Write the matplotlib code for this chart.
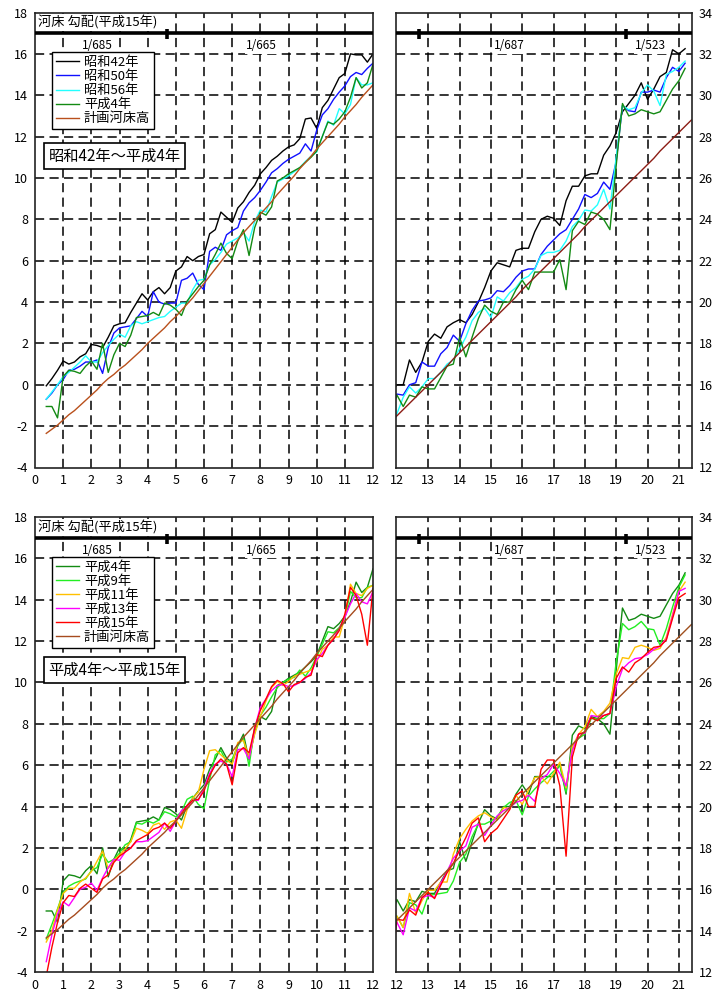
import matplotlib
matplotlib.use('Agg')
import matplotlib.pyplot as plt

plt.rcParams['font.family'] = ['Noto Sans CJK JP', 'DejaVu Sans']
plt.rcParams['axes.unicode_minus'] = False

# survey sections (km), 200 m pitch
KM_L = [0.4, 0.6, 0.8, 1.0, 1.2, 1.4, 1.6, 1.8, 2.0, 2.2, 2.4, 2.6, 2.8, 3.0, 3.2,
        3.4, 3.6, 3.8, 4.0, 4.2, 4.4, 4.6, 4.8, 5.0, 5.2, 5.4, 5.6, 5.8, 6.0, 6.2,
        6.4, 6.6, 6.8, 7.0, 7.2, 7.4, 7.6, 7.8, 8.0, 8.2, 8.4, 8.6, 8.8, 9.0, 9.2,
        9.4, 9.6, 9.8, 10.0, 10.2, 10.4, 10.6, 10.8, 11.0, 11.2, 11.4, 11.6, 11.8, 12.0]
KM_R = [12.2, 12.4, 12.6, 12.8, 13.0, 13.2, 13.4, 13.6, 13.8, 14.0, 14.2, 14.4, 14.6,
        14.8, 15.0, 15.2, 15.4, 15.6, 15.8, 16.0, 16.2, 16.4, 16.6, 16.8, 17.0, 17.2,
        17.4, 17.6, 17.8, 18.0, 18.2, 18.4, 18.6, 18.8, 19.0, 19.2, 19.4, 19.6, 19.8,
        20.0, 20.2, 20.4, 20.6, 20.8, 21.0, 21.2]
KM = KM_L + KM_R
KM_PLAN = KM + [21.4]

# bed elevation by survey year
S42 = [-0.05, 0.3, 0.7, 1.15, 1.0, 1.1, 1.35, 1.5, 1.95, 1.9, 1.8, 2.3, 2.85, 2.95, 3.0,
       3.5, 3.95, 4.4, 4.1, 4.5, 4.7, 4.4, 4.7, 5.5, 5.7, 6.2, 6.0, 6.2, 6.3, 7.3,
       7.5, 8.35, 8.1, 7.85, 8.55, 8.85, 9.3, 9.65, 10.2, 10.5, 10.85, 11.05, 11.3, 11.5, 11.6,
       11.9, 12.85, 12.9, 12.4, 13.4, 13.75, 14.3, 14.85, 15.05, 16.0, 15.95, 15.95, 15.6, 16.0,
       16.0, 17.2, 16.6, 17.1, 18.1, 18.45, 18.25, 18.8, 19.0, 19.15, 19.0, 19.4, 20.0,
       20.7, 21.5, 21.9, 21.8, 21.7, 22.5, 22.6, 22.6, 23.4, 24.0, 24.15, 24.05, 23.7,
       24.9, 25.6, 25.6, 26.1, 26.2, 26.2, 27.1, 27.55, 28.2, 29.2, 29.6, 30.0, 30.6,
       29.8, 30.3, 30.9, 31.1, 32.2, 32.0, 32.25]
S50 = [-0.7, -0.4, 0.0, 0.25, 0.7, 0.75, 0.9, 1.1, 1.1, 1.2, 0.55, 1.8, 2.5, 2.75, 2.8,
       2.85, 3.2, 3.55, 3.3, 4.5, 4.0, 3.9, 3.95, 3.95, 5.05, 5.15, 5.4, 4.85, 4.6, 6.45,
       6.65, 6.5, 7.25, 7.45, 7.6, 8.4, 8.8, 9.05, 9.4, 9.8, 10.25, 10.45, 10.7, 10.9, 11.05,
       11.2, 11.65, 11.3, 12.3, 13.05, 13.35, 13.8, 14.15, 14.45, 14.9, 15.1, 15.0, 15.3, 15.55,
       15.5, 16.0, 16.1, 17.1, 16.9, 16.9, 17.5, 17.8, 18.4, 18.1, 18.95, 19.6, 20.05,
       20.1, 20.2, 20.55, 20.5, 20.8, 21.2, 21.5, 21.6, 21.6, 22.3, 22.7, 23.0, 23.3,
       23.5, 24.0, 24.5, 25.2, 25.05, 25.25, 25.8, 25.45, 26.8, 29.5, 29.25, 29.2, 30.15,
       30.15, 30.25, 30.15, 30.85, 31.35, 31.15, 31.55]
S56 = [-0.7, -0.35, 0.0, 0.4, 0.6, 0.85, 1.1, 1.4, 1.1, 1.1, 1.55, 1.9, 2.2, 2.45, 2.3,
       2.85, 3.05, 2.95, 3.05, 3.15, 3.25, 3.3, 3.55, 3.75, 3.95, 3.95, 4.6, 5.05, 5.1, 5.8,
       6.05, 6.4, 6.8, 6.95, 7.1, 7.35, 6.95, 7.9, 8.45, 8.35, 9.1, 9.8, 9.95, 10.1, 10.3,
       10.5, 10.8, 11.05, 11.25, 12.0, 12.75, 12.55, 13.35, 13.1, 13.55, 14.85, 14.5, 14.5, 14.6,
       15.4, 15.9, 15.6, 15.9, 16.3, 16.3, 16.6, 17.0, 17.2, 17.75, 18.3, 19.1, 19.5,
       19.7, 19.25, 20.25, 20.05, 20.45, 20.7, 21.1, 21.25, 21.6, 22.25, 22.4, 22.4, 22.5,
       22.95, 23.65, 23.95, 24.45, 24.4, 24.7, 25.45, 24.5, 27.0, 29.5, 29.3, 29.4, 30.1,
       30.5, 30.2, 29.5, 31.0, 31.15, 31.35, 31.65]
H04 = [-1.05, -1.05, -1.6, 0.4, 0.7, 0.65, 0.55, 0.9, 1.15, 0.75, 2.0, 0.6, 1.45, 2.0, 1.85,
       2.4, 3.25, 3.3, 3.35, 3.5, 3.35, 3.95, 3.85, 3.65, 3.35, 4.05, 4.4, 4.75, 5.05, 5.8,
       6.3, 6.85, 6.35, 6.1, 6.95, 7.5, 6.25, 7.6, 8.35, 8.2, 8.6, 9.85, 10.0, 10.2, 10.35,
       10.5, 10.75, 11.0, 11.3, 12.0, 12.7, 12.6, 12.85, 13.2, 13.9, 14.85, 14.35, 14.6, 15.5,
       14.95, 15.5, 15.4, 15.9, 15.8, 15.8, 16.35, 16.9, 17.0, 18.3, 17.35, 18.3, 19.2,
       19.85, 19.55, 19.4, 20.0, 20.0, 20.6, 21.05, 20.6, 21.45, 21.45, 21.45, 21.45, 22.05,
       20.6, 23.45, 23.9, 23.75, 24.35, 24.25, 24.0, 23.5, 26.6, 29.6, 29.0, 29.1, 29.3,
       29.2, 29.1, 29.2, 29.75, 30.3, 30.7, 31.3]
H09 = [-2.4, -1.7, -0.95, -0.15, 0.15, 0.3, 0.4, 0.5, 0.9, 1.05, 1.7, 1.3, 1.45, 1.75, 2.15,
       2.3, 3.2, 3.15, 3.3, 3.2, 3.35, 3.75, 3.65, 3.5, 3.75, 4.35, 4.5, 4.1, 3.9, 5.3,
       6.5, 6.7, 6.15, 6.3, 6.95, 7.3, 5.95, 7.85, 8.4, 8.8, 9.3, 9.75, 10.0, 10.15, 10.25,
       10.6, 10.3, 10.7, 11.25, 11.85, 12.45, 12.4, 12.65, 13.1, 14.4, 14.1, 14.1, 14.6, 14.7,
       14.15, 15.35, 15.25, 14.8, 15.7, 15.75, 15.8, 15.85, 16.4, 17.3, 17.7, 18.55, 19.15,
       19.15, 19.3, 19.5, 19.95, 20.2, 20.3, 19.6, 20.5, 20.85, 21.15, 21.4, 21.7, 22.0,
       20.7, 22.95, 23.3, 23.5, 24.25, 24.25, 24.25, 24.5, 27.0, 28.85, 28.55, 28.7, 28.95,
       28.6, 28.55, 27.8, 28.6, 29.65, 30.6, 31.2]
H11 = [-2.55, -2.0, -1.0, -0.2, 0.05, 0.05, 0.35, 0.55, 0.85, 1.35, 1.85, 1.0, 1.4, 1.65, 1.95,
       2.3, 2.95, 2.85, 2.7, 3.1, 3.2, 2.9, 3.25, 3.35, 2.95, 3.85, 4.4, 4.7, 5.8, 6.7,
       6.75, 6.5, 6.25, 6.05, 7.1, 7.2, 6.4, 7.5, 8.35, 9.1, 9.75, 10.05, 9.85, 10.05, 10.3,
       10.4, 10.5, 10.6, 11.0, 11.6, 11.8, 12.2, 12.2, 13.15, 14.75, 14.3, 14.2, 14.55, 14.7,
       14.15, 15.8, 14.85, 15.45, 15.95, 15.95, 16.35, 16.35, 17.7, 18.45, 18.9, 19.3, 19.55,
       19.7, 19.5, 19.35, 19.95, 19.9, 20.55, 20.1, 20.8, 21.4, 21.45, 21.1, 21.6, 22.15,
       20.9, 22.9, 23.5, 23.85, 24.7, 24.35, 24.6, 25.0, 26.4, 27.2, 27.15, 27.7, 27.8,
       27.7, 27.55, 27.65, 28.2, 29.3, 30.4, 30.85]
H13 = [-3.5, -2.2, -1.2, -0.6, -0.8, -0.4, 0.0, 0.1, 0.3, -0.05, 0.55, 1.05, 1.45, 1.4, 1.8,
       2.0, 2.3, 2.3, 2.35, 2.55, 2.75, 3.2, 2.8, 3.3, 3.8, 4.0, 4.3, 4.3, 4.9, 5.6,
       6.05, 6.2, 6.05, 5.45, 6.75, 6.8, 6.3, 7.8, 8.8, 9.2, 9.6, 9.85, 9.9, 9.8, 9.85,
       10.0, 10.2, 10.45, 11.1, 11.4, 11.8, 12.1, 12.6, 13.15, 13.8, 14.3, 13.9, 13.8, 14.4,
       13.8, 15.1, 14.95, 15.6, 15.7, 15.6, 16.3, 16.85, 17.5, 17.85, 18.1, 19.0, 19.15,
       18.6, 19.1, 19.55, 19.8, 19.95, 20.2, 20.3, 20.55, 20.25, 21.35, 21.55, 22.05, 21.6,
       21.0, 22.7, 23.5, 23.55, 24.4, 24.35, 24.4, 24.5, 25.8, 26.65, 26.95, 27.15, 27.2,
       27.35, 27.6, 27.75, 28.1, 29.2, 30.4, 30.55]
H15 = [-4.2, -2.8, -1.6, -0.65, -0.3, -0.35, 0.05, 0.25, 0.05, -0.15, 0.5, 0.7, 1.3, 1.6, 1.8,
       2.0, 2.35, 2.5, 2.65, 2.9, 3.0, 3.2, 2.95, 3.3, 3.65, 4.05, 4.3, 4.35, 4.75, 5.5,
       6.0, 6.3, 6.05, 5.05, 6.6, 6.85, 6.6, 7.8, 8.65, 9.2, 9.8, 10.1, 9.95, 9.55, 9.9,
       10.0, 10.25, 10.35, 11.35, 11.25, 11.8, 12.1, 12.5, 13.3, 14.6, 14.2, 13.3, 11.8, 14.55,
       14.5, 15.0, 14.75, 15.6, 15.85, 15.55, 16.2, 16.8, 17.25, 17.9, 18.5, 19.2, 19.45,
       18.3, 18.7, 18.95, 19.4, 19.85, 20.55, 20.75, 20.0, 20.0, 21.8, 22.25, 22.25, 21.0,
       17.6, 22.4, 23.5, 23.6, 24.3, 24.15, 24.4, 24.5, 26.2, 26.75, 26.5, 26.95, 27.15,
       27.45, 27.7, 27.75, 28.05, 29.1, 30.1, 30.3]
# planned bed elevation
PLAN = [-2.35, -2.15, -1.95, -1.7, -1.45, -1.25, -1.0, -0.75, -0.5, -0.25, 0.05, 0.3, 0.5, 0.75, 0.95,
        1.2, 1.45, 1.7, 2.0, 2.25, 2.5, 2.75, 3.05, 3.3, 3.6, 3.9, 4.2, 4.55, 4.9, 5.25,
        5.6, 5.95, 6.3, 6.65, 7.0, 7.35, 7.65, 7.95, 8.25, 8.55, 8.85, 9.2, 9.5, 9.8, 10.1,
        10.45, 10.75, 11.05, 11.4, 11.7, 12.0, 12.3, 12.6, 12.95, 13.25, 13.55, 13.9, 14.2, 14.5,
        14.8, 15.1, 15.4, 15.7, 16.0, 16.3, 16.6, 16.9, 17.25, 17.55, 17.85, 18.15, 18.45,
        18.75, 19.05, 19.35, 19.65, 19.95, 20.25, 20.6, 20.9, 21.2, 21.5, 21.8, 22.1, 22.4,
        22.7, 23.0, 23.3, 23.65, 23.95, 24.25, 24.55, 24.85, 25.15, 25.45, 25.75, 26.05, 26.35,
        26.65, 26.95, 27.3, 27.6, 27.9, 28.2, 28.5, 28.8]

# gradient change points and labels
BREAK_L = [4.7]
BREAK_R = [12.7, 19.3]
GRAD_L_X = [2.2, 8.05]
GRAD_L = ['1/685', '1/665']
GRAD_R_X = [15.6, 20.1]
GRAD_R = ['1/687', '1/523']

TOP_SERIES = [('昭和42年', S42, '#000000'), ('昭和50年', S50, '#1010FF'),
              ('昭和56年', S56, '#22FFFF'), ('平成4年', H04, '#138A13')]
BOT_SERIES = [('平成4年', H04, '#138A13'), ('平成9年', H09, '#22EE22'),
              ('平成11年', H11, '#FFC000'), ('平成13年', H13, '#FF00FF'),
              ('平成15年', H15, '#FF0000')]

W, H = 713, 1001
fig = plt.figure(figsize=(W / 100, H / 100), dpi=100)


def rect(l, t, r, b):
    return [l / W, 1 - b / H, (r - l) / W, (b - t) / H]


def panel(box, xlim, ylim, xticks, right, breaks, gx, gt):
    ax = fig.add_axes(box)
    ax.set_xlim(*xlim)
    ax.set_ylim(*ylim)
    ax.set_xticks(xticks)
    ax.set_yticks(range(ylim[0], ylim[1] + 1, 2))
    ax.tick_params(length=0, labelsize=9, pad=5)
    if right:
        ax.yaxis.tick_right()
    for s in ax.spines.values():
        s.set_linewidth(1.2)
        s.set_color('#222222')
    dash = dict(color='black', lw=1.1, dashes=(6, 3.5), zorder=1)
    for y in range(ylim[0] + 2, ylim[1] - 1, 2):
        ax.axhline(y, **dash)
    for x in xticks[1:]:
        if x < xlim[1] - 0.05:
            ax.axvline(x, **dash)
    top = ylim[1] - 1
    ax.axhline(top, color='black', lw=2.6, zorder=3)
    for b in breaks:
        ax.plot([b, b], [top - 0.3, top + 0.2], color='black', lw=2.6, zorder=3,
                solid_capstyle='butt')
    for x, t in zip(gx, gt):
        ax.text(x, top - 0.6, t, ha='center', va='center', fontsize=8.5, zorder=4,
                bbox=dict(fc='white', ec='none', pad=1))
    return ax


def draw(ax, series, plan_color):
    for name, vals, c in series:
        ax.plot(KM, vals, color=c, lw=1.0, label=name, zorder=2)
    ax.plot(KM_PLAN, PLAN, color=plan_color, lw=1.0, label='計画河床高', zorder=2)


def decorate_left(ax, caption, cap_y):
    ax.text(0.1, 17.5, '河床 勾配(平成15年)', ha='left', va='center', fontsize=9.5,
            zorder=4, bbox=dict(fc='white', ec='none', pad=1))
    leg = ax.legend(loc='upper left', bbox_to_anchor=(0.049, 0.913), borderaxespad=0,
                    fontsize=9.5, handlelength=1.8, handletextpad=0.35, labelspacing=0.08,
                    borderpad=0.3, fancybox=False, framealpha=1, edgecolor='black')
    leg.get_frame().set_linewidth(1.0)
    leg.set_zorder(5)
    ax.text(0.04, cap_y, caption, transform=ax.transAxes,
            ha='left', va='center', fontsize=11, zorder=5,
            bbox=dict(boxstyle='square,pad=0.3', fc='white', ec='black', lw=1.2))


XT_L = list(range(0, 13))
XT_R = list(range(12, 22))

tl = panel(rect(35, 12.5, 373, 467.5), (0, 12), (-4, 18), XT_L, False, BREAK_L, GRAD_L_X, GRAD_L)
draw(tl, TOP_SERIES, '#B9501C')
decorate_left(tl, '昭和42年～平成4年', 0.685)

tr = panel(rect(396, 12.5, 692, 467.5), (11.97, 21.42), (12, 34), XT_R, True, BREAK_R, GRAD_R_X, GRAD_R)
draw(tr, TOP_SERIES, '#8C1C14')

bl = panel(rect(35, 517, 373, 972), (0, 12), (-4, 18), XT_L, False, BREAK_L, GRAD_L_X, GRAD_L)
draw(bl, BOT_SERIES, '#A64B1E')
decorate_left(bl, '平成4年～平成15年', 0.664)

br = panel(rect(396, 517, 692, 972), (11.97, 21.42), (12, 34), XT_R, True, BREAK_R, GRAD_R_X, GRAD_R)
draw(br, BOT_SERIES, '#A0501E')

fig.savefig('out.png', dpi=100)
